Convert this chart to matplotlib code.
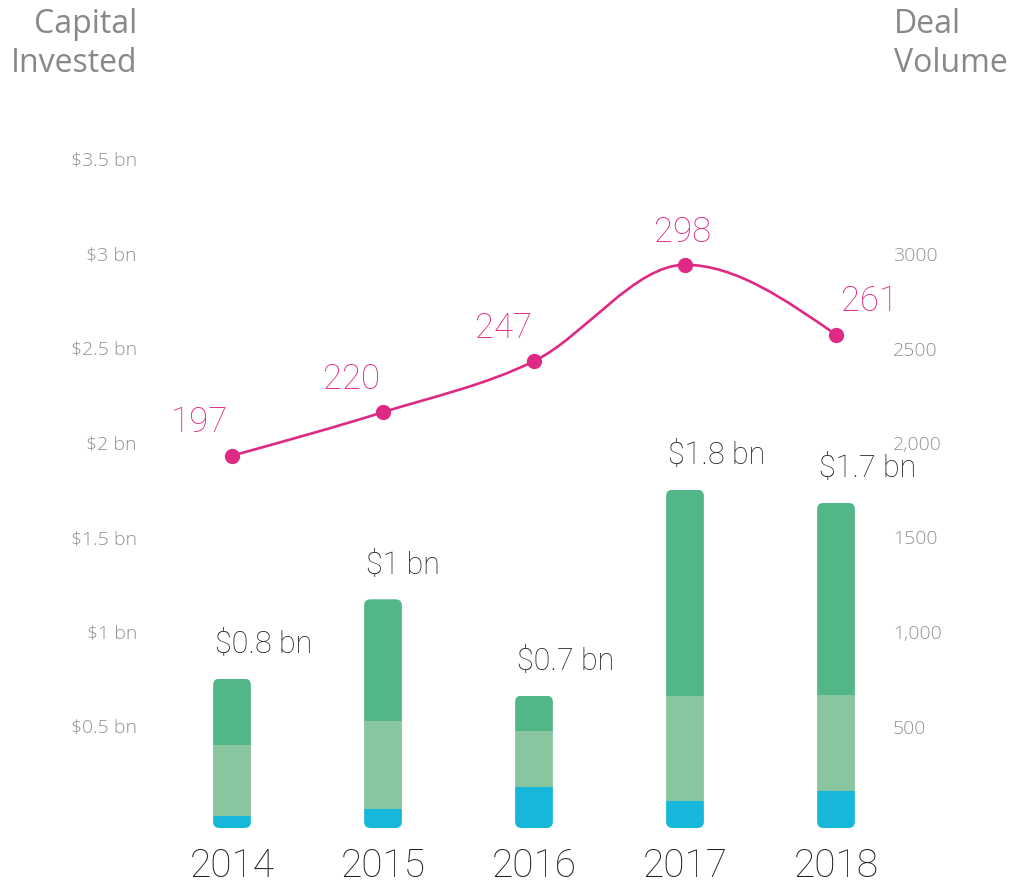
import matplotlib
matplotlib.use("Agg")
import matplotlib.pyplot as plt
import numpy as np
from matplotlib.patches import FancyBboxPatch, PathPatch
from matplotlib.path import Path
from matplotlib.transforms import ScaledTranslation

# dados
anos = ["2014", "2015", "2016", "2017", "2018"]
seg_azul = [0.063, 0.10, 0.217, 0.143, 0.196]
seg_verde_claro = [0.377, 0.466, 0.296, 0.555, 0.508]
seg_verde = [0.35, 0.644, 0.187, 1.092, 1.016]
rotulos_capital = ["$0.8 bn", "$1 bn", "$0.7 bn", "$1.8 bn", "$1.7 bn"]
deal_volume = [197, 220, 247, 298, 261]

ticks_esq = [0.5, 1, 1.5, 2, 2.5, 3, 3.5]
rotulos_esq = ["$0.5 bn", "$1 bn", "$1.5 bn", "$2 bn", "$2.5 bn", "$3 bn", "$3.5 bn"]
ticks_dir = [500, 1000, 1500, 2000, 2500, 3000]
rotulos_dir = ["500", "1,000", "1500", "2,000", "2500", "3000"]

AZUL = "#17B7DA"
VERDE_CLARO = "#89C6A0"
VERDE = "#53B687"
ROSA = "#DE2A85"
CINZA = "#929292"

fig = plt.figure(figsize=(10.11, 8.86), dpi=100)
W, H = 1011, 886
ax = fig.add_axes([150 / W, 1 - 828 / H, (880 - 150) / W, (828 - 100) / H])
ax.set_xlim((150 - 232) / 151, (880 - 232) / 151)
ax.set_ylim(0, (828 - 100) / 189)
for s in ax.spines.values():
    s.set_visible(False)
ax.set_xticks([])
ax.set_yticks([])

x = np.arange(len(anos))
largura = 0.25
fundo = np.zeros(len(anos))
barras = []
for vals, cor in [(seg_azul, AZUL), (seg_verde_claro, VERDE_CLARO), (seg_verde, VERDE)]:
    b = ax.bar(x, vals, largura, bottom=fundo, color=cor, linewidth=0, zorder=2)
    barras.append(b)
    fundo = fundo + np.array(vals)

# cantos arredondados: recorta cada barra por uma caixa arredondada
aspecto = 151 / 189
for i in range(len(anos)):
    caixa = FancyBboxPatch((x[i] - largura / 2, 0), largura, fundo[i],
                           boxstyle="round,pad=0,rounding_size=0.042",
                           mutation_aspect=aspecto, transform=ax.transData)
    for b in barras:
        b[i].set_clip_path(caixa)

# rotulos de capital acima das barras
for i, txt in enumerate(rotulos_capital):
    ax.annotate(txt, (x[i] - largura / 2, fundo[i]), xytext=(2, 34),
                textcoords="offset pixels", ha="left", va="center",
                fontsize=22, color="#222222", family="Roboto", fontweight="light")

# linha do deal volume (eixo da direita)
ax2 = ax.twinx()
ax2.set_ylim(0, ax.get_ylim()[1] * 1000)
ax2.set_yticks([])
for s in ax2.spines.values():
    s.set_visible(False)

yv = np.array(deal_volume) * 10.0
# curva monotona (tipo d3 curveMonotoneX) com beziers cubicas
s = np.diff(yv)
t = np.zeros(len(yv))
for i in range(1, len(yv) - 1):
    s0, s1 = s[i - 1], s[i]
    p = (s0 + s1) / 2
    t[i] = (np.sign(s0) + np.sign(s1)) * min(abs(s0), abs(s1), 0.5 * abs(p))
t[0] = (3 * s[0] - t[1]) / 2
t[-1] = (3 * s[-1] - t[-2]) / 2
verts = [(x[0], yv[0])]
codes = [Path.MOVETO]
for i in range(len(yv) - 1):
    verts += [(x[i] + 1 / 3, yv[i] + t[i] / 3), (x[i + 1] - 1 / 3, yv[i + 1] - t[i + 1] / 3), (x[i + 1], yv[i + 1])]
    codes += [Path.CURVE4] * 3
ax2.add_patch(PathPatch(Path(verts, codes), facecolor="none", edgecolor=ROSA, lw=1.9, zorder=3))
ax2.plot(x, yv, "o", color=ROSA, markersize=10, zorder=4)

alinhamentos = ["right", "right", "right", "center", "left"]
desloc_x = [-4, -3, -2, -2, 5]
for i, v in enumerate(deal_volume):
    ax2.annotate(str(v), (x[i], yv[i]), xytext=(desloc_x[i], 33), textcoords="offset pixels",
                 ha=alinhamentos[i], va="center", fontsize=25, color=ROSA,
                 family="Roboto", fontweight="light")

# rotulos dos eixos (um pouco acima da posicao do valor)
trans_esq = ax.get_yaxis_transform() + ScaledTranslation(-13 / 100, 5 / 100, fig.dpi_scale_trans)
for v, txt in zip(ticks_esq, rotulos_esq):
    ax.text(0, v, txt, transform=trans_esq, ha="right", va="center",
            fontsize=14, color=CINZA, family="Open Sans", fontweight="light")
trans_dir = ax2.get_yaxis_transform() + ScaledTranslation(13 / 100, 5 / 100, fig.dpi_scale_trans)
for v, txt in zip(ticks_dir, rotulos_dir):
    ax2.text(1, v, txt, transform=trans_dir, ha="left", va="center",
             fontsize=14, color=CINZA, family="Open Sans", fontweight="light")

# anos
trans_x = ax.get_xaxis_transform() + ScaledTranslation(0, -38 / 100, fig.dpi_scale_trans)
for i, a in enumerate(anos):
    ax.text(x[i], 0, a, transform=trans_x, ha="center", va="center",
            fontsize=28, color="#222222", family="Roboto", fontweight="light")

fig.text(137 / W, 1 - 44 / H, "Capital\nInvested", ha="right", va="center",
         multialignment="right", fontsize=23, color="#888888", family="Open Sans",
         linespacing=1.22)
fig.text(894 / W, 1 - 44 / H, "Deal\nVolume", ha="left", va="center",
         multialignment="left", fontsize=23, color="#888888", family="Open Sans",
         linespacing=1.22)

fig.savefig("out.png", dpi=100)
